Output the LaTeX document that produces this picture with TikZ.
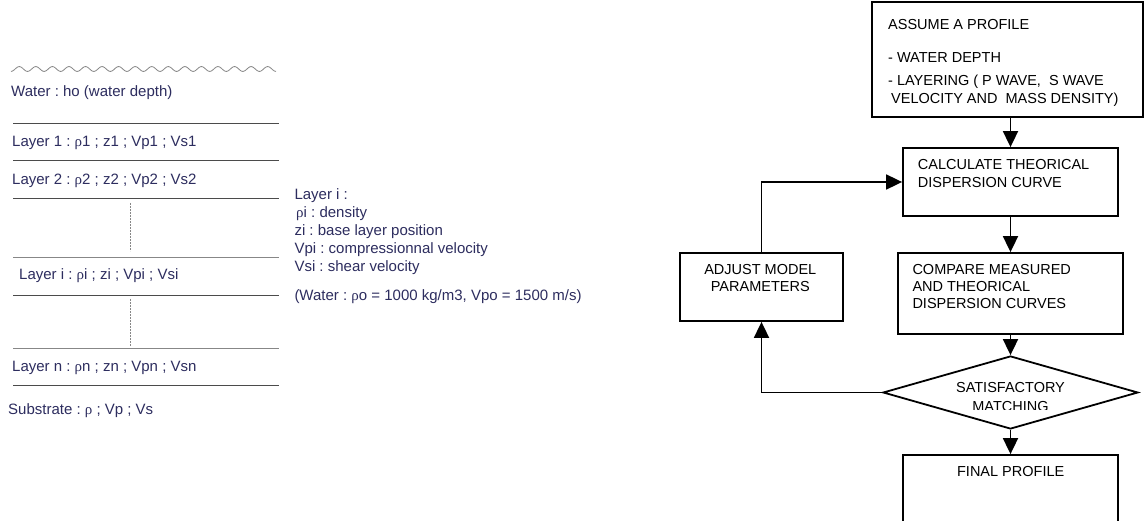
\documentclass[tikz,border=0pt]{standalone}
\usepackage{fontspec}
\setmainfont{Liberation Sans}
\newfontfamily\rhofont{Liberation Serif}
\usetikzlibrary{arrows.meta,shapes.geometric}
\newcommand\rh{{\rhofont ρ}}
\frenchspacing
\definecolor{navytxt}{RGB}{45,45,95}
\definecolor{darkln}{RGB}{75,75,75}
\definecolor{lightln}{RGB}{135,135,135}
\tikzset{
  ltxt/.style={inner sep=0pt, anchor=base west, text=navytxt, font=\fontsize{15}{18}\selectfont},
  ftxt/.style={inner sep=0pt, anchor=base west, text=black, font=\fontsize{14.5}{17}\selectfont},
  ctxt/.style={ftxt, anchor=base},
  box/.style={draw=black, line width=1.8pt, rectangle, inner sep=0pt},
  decis/.style={draw=black, line width=1.8pt, diamond, inner sep=0pt},
  arr/.style={draw=black, line width=1.8pt, -{Triangle[length=16pt,width=15pt]}},
  layerline/.style={draw=darkln, line width=0.9pt},
  layerlight/.style={draw=lightln, line width=0.9pt},
  dotline/.style={draw=lightln, line width=0.8pt, dash pattern=on 2pt off 1pt},
}
\begin{document}
\begin{tikzpicture}[x=1pt,y=-1pt]
\clip (0,0) rectangle (1144,521);
\fill[white] (0,0) rectangle (1144,521);

% ---------- left: layered model ----------
\draw[draw=lightln, line width=0.8pt] plot[domain=11:276, samples=400, smooth]
  (\x, {69 + 2.4*cos(21.739*(\x-11))});
\node[ltxt] (water) at (11,96.5) {Water : ho (water depth)};
\draw[layerline] (13,123) -- (279,123);
\node[ltxt] (l1) at (12,147) {Layer 1 : \rh1 ; z1 ; Vp1 ; Vs1};
\draw[layerline] (13,160) -- (279,160);
\node[ltxt] (l2) at (12,185) {Layer 2 : \rh2 ; z2 ; Vp2 ; Vs2};
\draw[layerline] (13,198) -- (279,198);
\draw[dotline] (130,203) -- (130,251);
\draw[layerlight] (13,257) -- (279,257);
\node[ltxt] (li) at (19,280) {Layer i : \rh i ; zi ; Vpi ; Vsi};
\draw[layerline] (13,295) -- (279,295);
\draw[dotline] (130,299) -- (130,346);
\draw[layerlight] (13,348) -- (279,348);
\node[ltxt] (ln) at (12,372) {Layer n : \rh n ; zn ; Vpn ; Vsn};
\draw[layerline] (13,385) -- (279,385);
\node[ltxt] (sub) at (8,415) {Substrate : \rh\ ; Vp ; Vs};

% ---------- middle: legend ----------
\node[ltxt] (g1) at (294.3,200) {Layer i :};
\node[ltxt] (g2) at (296,218) {\rh i : density};
\node[ltxt] (g3) at (294.3,236) {zi : base layer position};
\node[ltxt] (g4) at (294.3,254) {Vpi : compressionnal velocity};
\node[ltxt] (g5) at (294.3,272) {Vsi : shear velocity};
\node[ltxt] (g6) at (294.3,301) {(Water : \rh o = 1000 kg/m3, Vpo = 1500 m/s)};

% ---------- right: flowchart ----------
\node[box, minimum width=271pt, minimum height=115pt] (assume) at (1007.5,59.5) {};
\node[ftxt] (a1) at (888,29.5) {ASSUME A PROFILE};
\node[ftxt] (a2) at (888,63) {- WATER DEPTH};
\node[ftxt] (a3) at (888,86) {- LAYERING ( P WAVE,\ \ S WAVE};
\node[ftxt] (a4) at (891,104) {VELOCITY AND\ \ MASS DENSITY)};

\node[box, minimum width=215pt, minimum height=68pt] (calc) at (1010.5,182) {};
\node[ftxt] (c1) at (917.7,170) {CALCULATE THEORICAL};
\node[ftxt] (c2) at (917.7,188) {DISPERSION CURVE};

\node[box, minimum width=225pt, minimum height=81pt] (compare) at (1010.5,293.5) {};
\node[ftxt] (m1) at (912.3,275) {COMPARE MEASURED};
\node[ftxt] (m2) at (912.3,291.7) {AND THEORICAL};
\node[ftxt] (m3) at (912.3,309) {DISPERSION CURVES};

\node[box, minimum width=163pt, minimum height=68pt] (adjust) at (761.5,287) {};
\node[ctxt] (j1) at (760.3,275) {ADJUST MODEL};
\node[ctxt] (j2) at (760.3,291.7) {PARAMETERS};

\node[decis, minimum width=255pt, minimum height=73pt] (dec) at (1010.5,392.5) {};
\node[ctxt] (d1) at (1010.5,393) {SATISFACTORY};
\begin{scope}
  \clip (900,395) rectangle (1120,409.3);
  \node[ctxt] (d2) at (1010.5,411) {MATCHING};
\end{scope}

\node[box, minimum width=215pt, minimum height=90pt] (final) at (1010.5,500) {};
\node[ctxt] (f1) at (1010.7,476.7) {FINAL PROFILE};

% connectors
\draw[arr] (calc.north |- assume.south) -- (calc.north);
\draw[arr] (calc.south) -- (compare.north);
\draw[arr] (compare.south) -- (dec.north);
\draw[arr] (dec.south) -- (final.north);
\draw[arr] (dec.west) -- (dec.west -| adjust.south) -- (adjust.south);
\draw[arr] (adjust.north) |- (calc.west);
\end{tikzpicture}
\end{document}
